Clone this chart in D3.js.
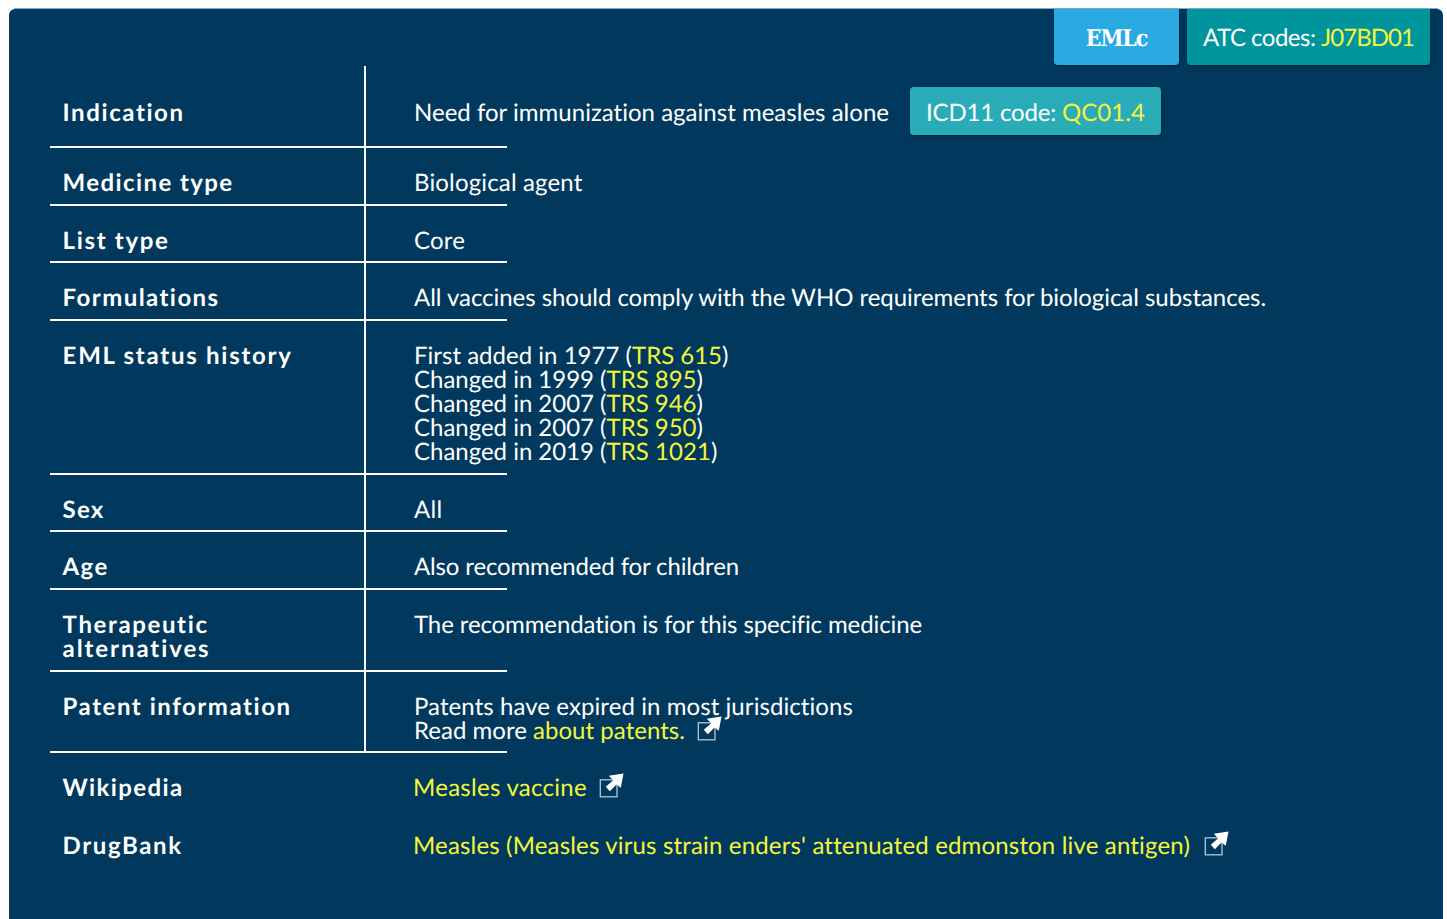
<!DOCTYPE html>
<html>
<head>
<meta charset="utf-8">
<script src="https://cdn.jsdelivr.net/npm/d3@7"></script>
<style>
  html, body { margin: 0; padding: 0; background: #fff; }
  svg { display: block; }
  text { font-family: Lato, "Open Sans", sans-serif; text-rendering: geometricPrecision; font-variant-ligatures: none; }
  .label { font-size: 24px; font-weight: 700; fill: #fff; }
  .value { font-size: 24px; fill: #fff; }
  .link { fill: #f5f53c; }
</style>
</head>
<body>
<div id="chart"></div>
<script>
var rowLabels = [
  ["Indication"], ["Medicine type"], ["List type"], ["Formulations"], ["EML status history"],
  ["Sex"], ["Age"], ["Therapeutic", "alternatives"], ["Patent information"], ["Wikipedia"], ["DrugBank"]
];

// each line is a list of [text, isLink] runs
var rowValues = [
  [[["Need for immunization against measles alone", 0]]],
  [[["Biological agent", 0]]],
  [[["Core", 0]]],
  [[["All vaccines should comply with the WHO requirements for biological substances.", 0]]],
  [
    [["First added in 1977 (", 0], ["TRS 615", 1], [")", 0]],
    [["Changed in 1999 (", 0], ["TRS 895", 1], [")", 0]],
    [["Changed in 2007 (", 0], ["TRS 946", 1], [")", 0]],
    [["Changed in 2007 (", 0], ["TRS 950", 1], [")", 0]],
    [["Changed in 2019 (", 0], ["TRS 1021", 1], [")", 0]]
  ],
  [[["All", 0]]],
  [[["Also recommended for children", 0]]],
  [[["The recommendation is for this specific medicine", 0]]],
  [
    [["Patents have expired in most jurisdictions", 0]],
    [["Read more ", 0], ["about patents.", 1]]
  ],
  [[["Measles vaccine", 1]]],
  [[["Measles (Measles virus strain enders' attenuated edmonston live antigen)", 1]]]
];

var badgeEml = "EMLc";
var badgeAtc = ["ATC codes: ", "J07BD01"];
var badgeIcd = ["ICD11 code: ", "QC01.4"];

var svgWidth = 1447;
var svgHeight = 919;
var navy = "#00395d";

var baselines = [121, 191, 249, 306, 364, 518, 575, 633, 715, 796, 854];
var ruleYs = [147, 205, 262, 320, 474, 531, 589, 671, 752];
var lineStep = 24;
var labelX = 62.6;
var valueX = 414;
var linkRowX = 413;

// advance widths the reference text takes, so the local Lato lines up with it
var labelWidths = [[122], [171], [107], [157], [230], [42], [46], [146, 148], [229], [121], [120]];
var valueWidths = [
  [[475]], [[168.5]], [[51]], [[852]],
  [[218, 90, 8], [192.5, 90, 8], [192.5, 90, 8], [192.5, 90, 8], [192.5, 104.5, 8]],
  [[28.5]], [[325]], [[508]],
  [[439], [119, 152]],
  [[174]], [[777]]
];
var atcWidths = [118, 93];
var icdWidths = [136, 83];
var iconSpots = [[698, 716.5], [600, 773.5], [1205, 831.5]];

var svg = d3.select("#chart")
  .append("svg")
  .attr("width", svgWidth)
  .attr("height", svgHeight);

var defs = svg.append("defs");
var shadow = defs.append("filter").attr("id", "shadow")
  .attr("x", "-10%").attr("y", "-10%").attr("width", "120%").attr("height", "130%");
shadow.append("feDropShadow")
  .attr("dx", 1).attr("dy", 2).attr("stdDeviation", 2)
  .attr("flood-color", "#000").attr("flood-opacity", 0.3);

// squeeze or stretch a run to a given advance width
function fit(sel, target) {
  var natural = sel.node().getComputedTextLength();
  var chars = sel.text().length;
  sel.style("letter-spacing", ((target - natural) / chars) + "px");
}

// panel
svg.append("rect")
  .attr("x", 9).attr("y", 9)
  .attr("width", 1434).attr("height", 930)
  .attr("rx", 6)
  .attr("fill", navy);
svg.append("line")
  .attr("x1", 14).attr("x2", 1438).attr("y1", 8.5).attr("y2", 8.5)
  .attr("stroke", "#8fa9bb").attr("stroke-width", 1);

// rules
svg.selectAll(".rule")
  .data(ruleYs)
  .enter()
  .append("line")
  .attr("class", "rule")
  .attr("x1", 50).attr("x2", 507)
  .attr("y1", function(d) { return d; })
  .attr("y2", function(d) { return d; })
  .attr("stroke", "#fff").attr("stroke-width", 2);

svg.append("line")
  .attr("x1", 365).attr("x2", 365)
  .attr("y1", 66).attr("y2", 752)
  .attr("stroke", "#fff").attr("stroke-width", 2);

// left labels
rowLabels.forEach(function(lines, i) {
  lines.forEach(function(line, j) {
    var t = svg.append("text")
      .attr("class", "label")
      .attr("x", labelX)
      .attr("y", baselines[i] + j * lineStep)
      .text(line);
    fit(t, labelWidths[i][j]);
  });
});

// values
rowValues.forEach(function(lines, i) {
  lines.forEach(function(runs, j) {
    var t = svg.append("text")
      .attr("class", "value")
      .attr("x", i >= 9 ? linkRowX : valueX)
      .attr("y", baselines[i] + j * lineStep)
      .style("white-space", "pre");
    runs.forEach(function(run, k) {
      var span = t.append("tspan")
        .attr("class", run[1] ? "link" : null)
        .text(run[0]);
      fit(span, valueWidths[i][j][k]);
    });
  });
});

function badge(x, y, w, h, fill, radius) {
  svg.append("path")
    .attr("d", radius === "bottom"
      ? "M" + x + "," + y + "h" + w + "v" + (h - 4) + "a4,4 0 0 1 -4,4h" + (8 - w) + "a4,4 0 0 1 -4,-4z"
      : "M" + (x + 4) + "," + y + "h" + (w - 8) + "a4,4 0 0 1 4,4v" + (h - 8) + "a4,4 0 0 1 -4,4h" + (8 - w) + "a4,4 0 0 1 -4,-4v" + (8 - h) + "a4,4 0 0 1 4,-4z")
    .attr("fill", fill)
    .attr("filter", "url(#shadow)");
}

badge(1054, 9, 125, 56, "#29aae2", "bottom");
badge(1187, 9, 243, 56, "#00959c", "bottom");
badge(910, 87, 251, 48, "#29abb8", "all");

svg.append("text")
  .attr("x", 1116.5).attr("y", 46)
  .attr("text-anchor", "middle")
  .attr("fill", "#fff")
  .style("font-family", "'DejaVu Serif Condensed', 'DejaVu Serif', serif")
  .style("font-weight", 700)
  .style("font-stretch", "condensed")
  .style("font-size", "23px")
  .style("letter-spacing", "-1.1px")
  .text(badgeEml);

function badgeText(x, y, pair, widths) {
  var t = svg.append("text").attr("class", "value").attr("x", x).attr("y", y).style("white-space", "pre");
  fit(t.append("tspan").text(pair[0]), widths[0]);
  fit(t.append("tspan").attr("class", "link").text(pair[1]), widths[1]);
}
badgeText(1203, 46, badgeAtc, atcWidths);
badgeText(926, 121, badgeIcd, icdWidths);

// external link icons, origin at the arrow tip's top and the box's left
var icons = svg.selectAll(".icon")
  .data(iconSpots)
  .enter()
  .append("g")
  .attr("class", "icon")
  .attr("transform", function(d) { return "translate(" + d[0] + "," + d[1] + ")"; });
icons.append("rect")
  .attr("x", 0.3).attr("y", 6.3)
  .attr("width", 16.7).attr("height", 17)
  .attr("fill", "none")
  .attr("stroke", "#b5c6d2").attr("stroke-width", 1.3);
icons.append("path")
  .attr("d", "M23.5,0 L20.8,14.3 L16.5,11 L9.8,17.7 L5.8,13.3 L13.2,6.7 L8.8,2.3 Z")
  .attr("fill", "#fff");
</script>
</body>
</html>
